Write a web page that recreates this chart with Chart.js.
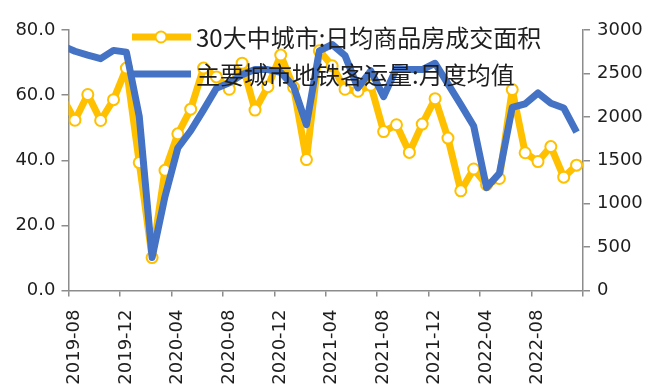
<!DOCTYPE html>
<html>
<head>
<meta charset="utf-8">
<script src="https://cdn.jsdelivr.net/npm/chart.js@4"></script>
<style>
  body { margin: 0; background: #fff; }
  canvas { display: block; }
</style>
</head>
<body>
<canvas id="myChart" width="657" height="386"></canvas>
<script>
// months (2019-07 is only there so the line runs in from the left edge)
const months = [
  '2019-07', '2019-08', '2019-09', '2019-10', '2019-11', '2019-12',
  '2020-01', '2020-02', '2020-03', '2020-04', '2020-05', '2020-06',
  '2020-07', '2020-08', '2020-09', '2020-10', '2020-11', '2020-12',
  '2021-01', '2021-02', '2021-03', '2021-04', '2021-05', '2021-06',
  '2021-07', '2021-08', '2021-09', '2021-10', '2021-11', '2021-12',
  '2022-01', '2022-02', '2022-03', '2022-04', '2022-05', '2022-06',
  '2022-07', '2022-08', '2022-09', '2022-10', '2022-11'
];

// 30大中城市 日均商品房成交面积 (left axis)
const houseArea = [
  59.5, 52.3, 60.2, 52.2, 58.6, 68.3, 39.3, 10.1, 36.9, 48.1,
  55.7, 68.3, 65.6, 61.8, 69.8, 55.4, 62.6, 72.3, 62.4, 40.2,
  73.6, 69.0, 61.8, 61.2, 63.0, 48.8, 50.9, 42.4, 51.1, 58.9,
  46.8, 30.6, 37.3, 32.5, 34.4, 61.7, 42.3, 39.6, 44.2, 34.8,
  38.5
];

// 主要城市地铁客运量 月度均值 (right axis)
const metroFlow = [
  2820, 2755, 2710, 2670, 2765, 2745, 2005, 380, 1082, 1641,
  1840, 2080, 2330, 2391, 2486, 2544, 2544, 2513, 2351, 1910,
  2760, 2833, 2705, 2333, 2530, 2233, 2560, 2544, 2544, 2617,
  2380, 2140, 1895, 1185, 1348, 2108, 2150, 2275, 2156, 2102,
  1823
];

const leftTicks = [0, 80, 20];
const rightTicks = [0, 3000, 500];

const YELLOW = '#FFC000';
const BLUE = '#4472C4';
const AXIS = '#8c8c8c';
const TEXT = '#1e1e1e';
const tickFont = { family: 'DejaVu Sans', size: 18 };

// each month sits in the middle of its slot, slot 0 starts at 2019-08
const toPoints = (values) => values.map((v, k) => ({ x: k - 0.5, y: v }));

// legend drawn inside the plot, on top of the lines
const innerLegend = {
  id: 'innerLegend',
  afterDatasetsDraw(chart) {
    const c = chart.ctx;
    const rows = [
      { ds: chart.data.datasets[0], y: 38, marker: true },
      { ds: chart.data.datasets[1], y: 75, marker: false }
    ];
    c.save();
    rows.forEach(r => {
      c.strokeStyle = r.ds.borderColor;
      c.lineWidth = 7;
      c.lineCap = 'butt';
      c.beginPath();
      c.moveTo(132, r.y - 1);
      c.lineTo(191, r.y - 1);
      c.stroke();
      if (r.marker) {
        c.beginPath();
        c.arc(161, r.y - 1, 5.5, 0, Math.PI * 2);
        c.fillStyle = '#fff';
        c.fill();
        c.lineWidth = 2;
        c.stroke();
      }
      c.fillStyle = TEXT;
      c.font = '24px "Noto Sans CJK SC"';
      c.textBaseline = 'middle';
      c.fillText(r.ds.label, 196, r.y);
    });
    c.restore();
  }
};

const ctx = document.getElementById('myChart').getContext('2d');
const myChart = new Chart(ctx, {
  type: 'line',
  data: {
    datasets: [{
      label: '30大中城市:日均商品房成交面积',
      data: toPoints(houseArea),
      yAxisID: 'y',
      order: 2,
      borderColor: YELLOW,
      borderWidth: 7,
      borderJoinStyle: 'round',
      pointRadius: 5.5,
      pointBorderWidth: 2,
      pointBackgroundColor: '#fff',
      pointBorderColor: YELLOW,
      clip: { left: 0, top: false, right: false, bottom: false }
    }, {
      label: '主要城市地铁客运量:月度均值',
      data: toPoints(metroFlow),
      yAxisID: 'y1',
      order: 1,
      borderColor: BLUE,
      borderWidth: 7,
      borderJoinStyle: 'round',
      pointRadius: 0,
      clip: { left: 0, top: false, right: false, bottom: false }
    }]
  },
  options: {
    responsive: false,
    animation: false,
    layout: { padding: { top: 30, left: 0, right: 0, bottom: 0 } },
    plugins: {
      legend: { display: false },
      tooltip: { enabled: false }
    },
    scales: {
      x: {
        type: 'linear',
        min: 0,
        max: months.length - 1,
        border: { color: AXIS, width: 1.5 },
        grid: { drawOnChartArea: false, drawTicks: true, tickLength: 6, color: AXIS, lineWidth: 1.5 },
        ticks: {
          stepSize: 4,
          autoSkip: false,
          minRotation: 90,
          maxRotation: 90,
          padding: 13,
          labelOffset: 6,
          color: TEXT,
          font: tickFont,
          callback: (v) => months[v + 1] && v < months.length - 1 ? months[v + 1] : ''
        },
        afterFit: (s) => { s.height = 95.5; }
      },
      y: {
        position: 'left',
        min: leftTicks[0],
        max: leftTicks[1],
        border: { color: AXIS, width: 1.5 },
        grid: { drawOnChartArea: false, drawTicks: true, tickLength: 7, color: AXIS, lineWidth: 1.5 },
        ticks: {
          stepSize: leftTicks[2],
          padding: 6,
          color: TEXT,
          font: tickFont,
          callback: (v) => v.toFixed(1)
        },
        afterFit: (s) => { s.width = 68.5; }
      },
      y1: {
        position: 'right',
        min: rightTicks[0],
        max: rightTicks[1],
        border: { color: AXIS, width: 1.5 },
        grid: { drawOnChartArea: false, drawTicks: true, tickLength: 7, color: AXIS, lineWidth: 1.5 },
        ticks: {
          stepSize: rightTicks[2],
          padding: 7,
          color: TEXT,
          font: tickFont,
          callback: (v) => String(v)
        },
        afterFit: (s) => { s.width = 74; }
      }
    }
  },
  plugins: [innerLegend]
});
</script>
</body>
</html>
